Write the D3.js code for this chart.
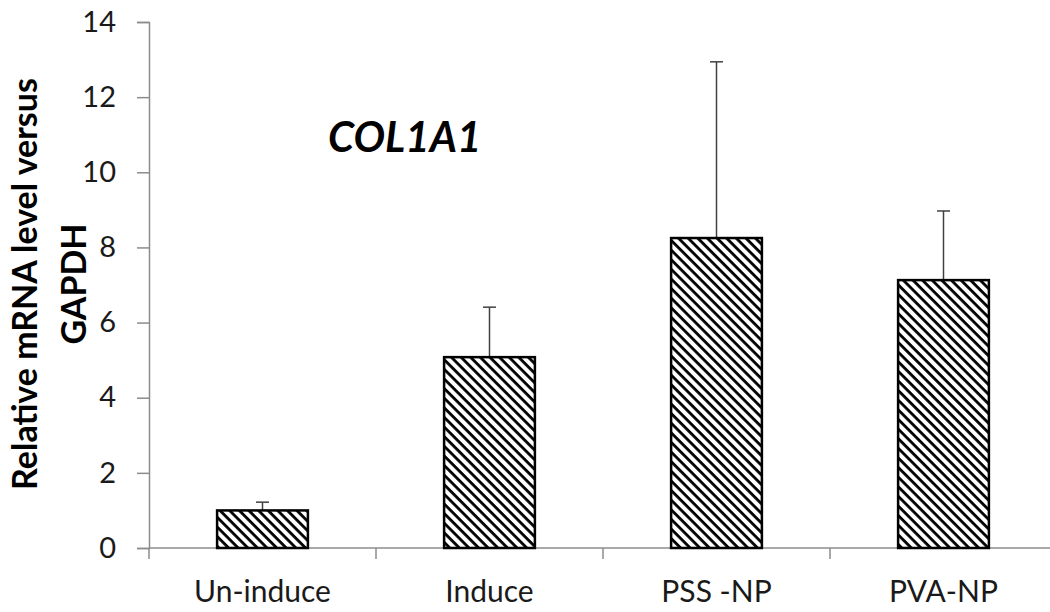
<!DOCTYPE html>
<html><head><meta charset="utf-8">
<script src="https://cdn.jsdelivr.net/npm/d3@7"></script>
<style>body{margin:0;background:#fff}svg{display:block}</style>
</head><body>
<svg id="c" width="1050" height="612"></svg>
<script>
const categories = ["Un-induce", "Induce", "PSS -NP", "PVA-NP"];
const values = [1.0, 5.08, 8.25, 7.13];
const errors = [0.22, 1.33, 4.69, 1.84];
const yTicks = [0, 2, 4, 6, 8, 10, 12, 14];
const title = "COL1A1";
const yTitle = ["Relative mRNA level versus", "GAPDH"];

const svg = d3.select("#c");
const font = "Lato, 'Open Sans', sans-serif";
const x = d3.scaleBand().domain(categories).range([149, 1057]).paddingInner(0.6).paddingOuter(0.3);
const y = d3.scaleLinear().domain([0, 14]).range([548, 22]);
const step = x.step();

const defs = svg.append("defs");
const P = 6.8;
const pat = defs.append("pattern").attr("id", "hatch").attr("patternUnits", "userSpaceOnUse")
  .attr("width", P).attr("height", P).attr("patternTransform", "rotate(45)");
pat.append("rect").attr("width", P).attr("height", P).attr("fill", "#fff");
pat.append("rect").attr("x", 0).attr("y", 0).attr("width", P).attr("height", 2.8).attr("fill", "#000");

// y axis
const yAxis = svg.append("g").attr("transform", "translate(149,0)")
  .call(d3.axisLeft(y).tickValues(yTicks).tickSize(12).tickPadding(21));
yAxis.select(".domain").attr("stroke", "#8c8c8c").attr("stroke-width", 1.5);
yAxis.selectAll(".tick line").attr("stroke", "#8c8c8c").attr("stroke-width", 1.5);
yAxis.selectAll(".tick text").attr("font-family", font).attr("font-size", 29).attr("fill", "#1a1a1a");

// x axis
const xg = svg.append("g").attr("transform", "translate(0,548)");
xg.append("line").attr("x1", 149).attr("x2", 1057).attr("stroke", "#8c8c8c").attr("stroke-width", 1.5);
const boundaries = d3.range(categories.length).map(i => 149 + i * step);
xg.selectAll(".xt").data(boundaries).join("line")
  .attr("x1", d => d).attr("x2", d => d).attr("y1", 0).attr("y2", 11)
  .attr("stroke", "#8c8c8c").attr("stroke-width", 1.5);
xg.selectAll(".xl").data(categories).join("text")
  .attr("x", d => x(d) + x.bandwidth() / 2).attr("y", 54)
  .attr("text-anchor", "middle").attr("font-family", font).attr("font-size", 30).attr("fill", "#1a1a1a")
  .text(d => d);

// error bars
const eb = svg.append("g");
categories.forEach((c, i) => {
  const cx = x(c) + x.bandwidth() / 2;
  eb.append("line").attr("x1", cx).attr("x2", cx).attr("y1", y(values[i])).attr("y2", y(values[i] + errors[i]))
    .attr("stroke", "#404040").attr("stroke-width", 1.5);
  eb.append("line").attr("x1", cx - 6.5).attr("x2", cx + 6.5).attr("y1", y(values[i] + errors[i])).attr("y2", y(values[i] + errors[i]))
    .attr("stroke", "#404040").attr("stroke-width", 1.5);
});

// bars
svg.append("g").selectAll("rect").data(categories).join("rect")
  .attr("x", d => x(d)).attr("width", x.bandwidth())
  .attr("y", (d, i) => y(values[i])).attr("height", (d, i) => y(0) - y(values[i]))
  .attr("fill", "url(#hatch)").attr("stroke", "#000").attr("stroke-width", 2.5);

// title
svg.append("text").attr("x", 328).attr("y", 152).attr("font-family", font).attr("font-size", 42)
  .attr("font-weight", "bold").attr("font-style", "italic").attr("fill", "#000").text(title);

// y title
const yt = svg.append("text").attr("transform", "translate(0,284) rotate(-90)")
  .attr("text-anchor", "middle").attr("font-family", font).attr("font-size", 34).attr("font-weight", "bold").attr("fill", "#000");
yt.append("tspan").attr("x", 0).attr("y", 37).text(yTitle[0]);
yt.append("tspan").attr("x", 0).attr("y", 86).text(yTitle[1]);
</script>
</body></html>
